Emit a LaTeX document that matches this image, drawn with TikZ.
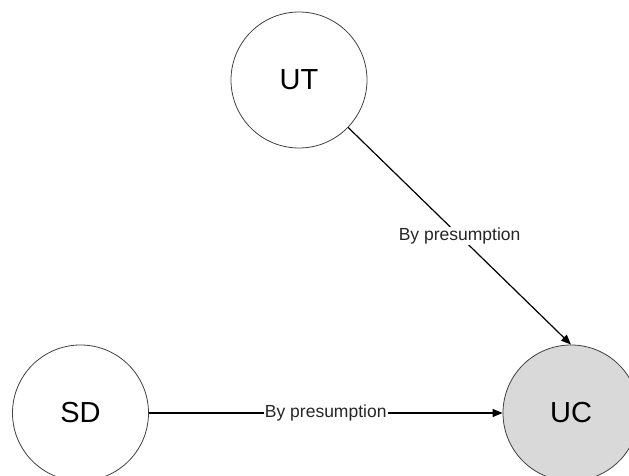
\documentclass[tikz,border=0pt]{standalone}
\usepackage{fontspec}
\setmainfont{Liberation Sans}
\usetikzlibrary{arrows.meta}
\begin{document}
\begin{tikzpicture}[x=1pt,y=-1pt,
  state/.style={circle,draw=black!75,line width=0.8pt,minimum size=136pt,inner sep=0pt,font=\fontsize{29}{30}\selectfont},
  flow/.style={line width=1.2pt,-{Triangle[length=10pt,width=8pt]}},
  tag/.style={fill=white,inner sep=1pt,font=\fontsize{17.5}{20}\selectfont,text=black!85}]
\useasboundingbox (0,0) rectangle (629,476);
\node[state] (UT) at (299,80) {UT};
\node[state] (SD) at (80.5,413) {SD};
\node[state,fill=black!15] (UC) at (571,413) {UC};
\draw[flow] (UT.-44) -- node[tag] {By presumption} (UC.north);
\draw[flow] (SD.east) -- node[tag] {By presumption} (UC.west);
\end{tikzpicture}
\end{document}
